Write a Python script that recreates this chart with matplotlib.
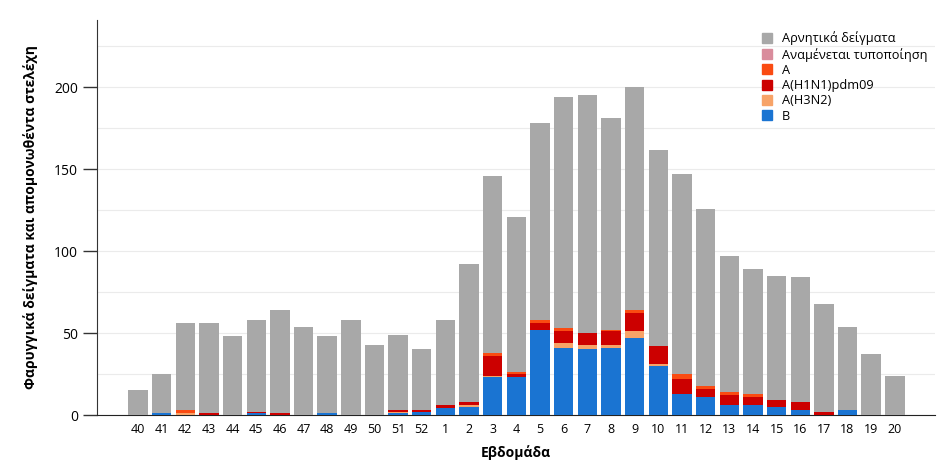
import matplotlib
matplotlib.use('Agg')
import matplotlib.pyplot as plt
from matplotlib.lines import Line2D
import numpy as np

plt.rcParams['font.family'] = ['Open Sans', 'DejaVu Sans']

# εβδομάδες
weeks = ['40', '41', '42', '43', '44', '45', '46', '47', '48', '49', '50', '51', '52',
         '1', '2', '3', '4', '5', '6', '7', '8', '9', '10', '11', '12', '13', '14',
         '15', '16', '17', '18', '19', '20']

# συνολικά δείγματα ανά εβδομάδα
total = [15, 25, 56, 56, 48, 58, 64, 54, 48, 58, 43, 49, 40,
         58, 92, 146, 121, 178, 194, 195, 181, 200, 162, 147, 126, 97, 89,
         85, 84, 68, 54, 37, 24]

b_vals = [0, 1, 0, 0, 0, 1, 0, 0, 1, 0, 0, 1, 2,
          4, 5, 23, 23, 52, 41, 40, 41, 47, 30, 13, 11, 6, 6,
          5, 3, 0, 3, 0, 0]
h3n2 = [0, 0, 1, 0, 0, 0, 0, 0, 0, 0, 0, 1, 0,
        0, 1, 1, 0, 0, 3, 3, 2, 4, 1, 0, 0, 0, 0,
        0, 0, 0, 0, 0, 0]
h1n1 = [0, 0, 0, 1, 0, 1, 1, 0, 0, 0, 0, 1, 1,
        2, 2, 12, 2, 4, 7, 7, 8, 11, 11, 9, 5, 6, 5,
        4, 5, 2, 0, 0, 0]
a_vals = [0, 0, 2, 0, 0, 0, 0, 0, 0, 0, 0, 0, 0,
          0, 0, 2, 1, 2, 2, 0, 1, 2, 0, 3, 2, 2, 2,
          0, 0, 0, 0, 0, 0]
pending = [0] * len(weeks)

negative = [t - b - c - d - e - p for t, b, c, d, e, p in
            zip(total, b_vals, h3n2, h1n1, a_vals, pending)]

labels = ['Αρνητικά δείγματα', 'Αναμένεται τυποποίηση', 'A',
          'A(H1N1)pdm09', 'A(H3N2)', 'B']
colors = {'B': '#1a74d2', 'A(H3N2)': '#f7a368', 'A(H1N1)pdm09': '#cc0000',
          'A': '#fa4b12', 'Αναμένεται τυποποίηση': '#d98c9c',
          'Αρνητικά δείγματα': '#a8a8a8'}

fig = plt.figure(figsize=(9.42, 4.73), dpi=100)
ax = fig.add_axes([0.103, 0.1226, 0.8896, 0.835])

x = np.arange(len(weeks))
w = 0.82
bottom = np.zeros(len(weeks))
series = [('B', b_vals), ('A(H3N2)', h3n2), ('A(H1N1)pdm09', h1n1),
          ('A', a_vals), ('Αναμένεται τυποποίηση', pending),
          ('Αρνητικά δείγματα', negative)]
for name, vals in series:
    vals = np.array(vals, dtype=float)
    ax.bar(x, vals, w, bottom=bottom, color=colors[name], linewidth=0, zorder=3)
    bottom += vals

ax.set_xlim(-1.73, 33.7)
ax.set_ylim(0, 241)
ax.set_yticks([0, 50, 100, 150, 200])
ax.set_yticks(np.arange(0, 241, 25), minor=True)
ax.grid(axis='y', which='both', color='#ebebeb', linewidth=0.8, zorder=0)
ax.set_xticks(x)
ax.set_xticklabels(weeks, fontsize=9)
ax.tick_params(axis='x', length=0, pad=6)
ax.tick_params(axis='y', which='major', length=10, width=1, labelsize=10, color='#333333')
ax.tick_params(axis='y', which='minor', length=0)
for s in ['top', 'right']:
    ax.spines[s].set_visible(False)
ax.spines['left'].set_color('#333333')
ax.spines['bottom'].set_color('#222222')

ax.set_xlabel('Εβδομάδα', fontsize=10, fontweight='bold', labelpad=6)
ax.set_ylabel('Φαρυγγικά δείγματα και απομονωθέντα στελέχη', fontsize=10,
              fontweight='bold', labelpad=12)

handles = [Line2D([0], [0], marker='s', linestyle='', markersize=6.5,
                  color=colors[l]) for l in labels]
ax.legend(handles, labels, loc='upper right', bbox_to_anchor=(1.005, 1.0),
          frameon=False, fontsize=9.2, handletextpad=0.7, labelspacing=0.18,
          handlelength=1.0)

plt.savefig('out.png', dpi=100)
